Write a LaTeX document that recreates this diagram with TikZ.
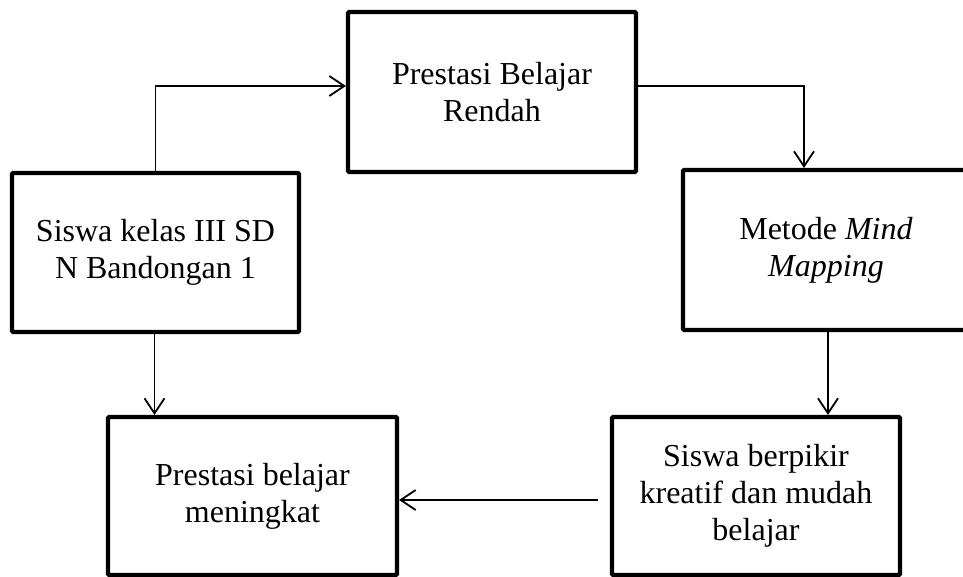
\documentclass[tikz,border=0pt]{standalone}
\usepackage{fontspec}
\setmainfont{Liberation Serif}
\usetikzlibrary{arrows.meta}
\tikzset{
  box/.style={draw=black, line width=4.2pt, rounded corners=1pt, inner sep=0pt,
    align=center, font=\fontsize{32}{37}\selectfont},
  arr/.style={draw=black, line width=1.8pt,
    -{Straight Barb[length=15pt,width=20pt,line width=1.8pt]}}
}
\begin{document}
\begin{tikzpicture}[x=1pt,y=-1pt]
\useasboundingbox (0,0) rectangle (963,577);
\node[box, minimum width=288pt, minimum height=160pt] (b1) at (492,92) {Prestasi Belajar\\Rendah};
\node[box, minimum width=287pt, minimum height=159pt] (b2) at (155.5,252.5) {Siswa kelas III SD\\N Bandongan 1};
\node[box, minimum width=286pt, minimum height=160pt] (b3) at (826,250) {Metode \textit{Mind}\\\textit{Mapping}};
\node[box, minimum width=289pt, minimum height=158pt] (b4) at (252.5,496) {Prestasi belajar\\meningkat};
\node[box, minimum width=288pt, minimum height=158pt] (b5) at (756,496) {\raisebox{6pt}{\begin{tabular}{@{}c@{}}Siswa berpikir\\kreatif dan mudah\\belajar\end{tabular}}};
\draw[arr] (b2.north) |- ([yshift=6pt]b1.west);
\draw[arr] ([yshift=6pt]b1.east) -| ([xshift=-22pt]b3.north);
\draw[arr] ([xshift=2pt]b3.south) -- ([xshift=2pt]b3.south |- b5.north);
\draw[arr, shorten <=12pt] ([yshift=-4pt]b5.west) -- ([yshift=-4pt]b4.east |- b5.west);
\draw[arr] ([xshift=-1pt]b2.south) -- ([xshift=-1pt]b2.south |- b4.north);
\end{tikzpicture}
\end{document}
